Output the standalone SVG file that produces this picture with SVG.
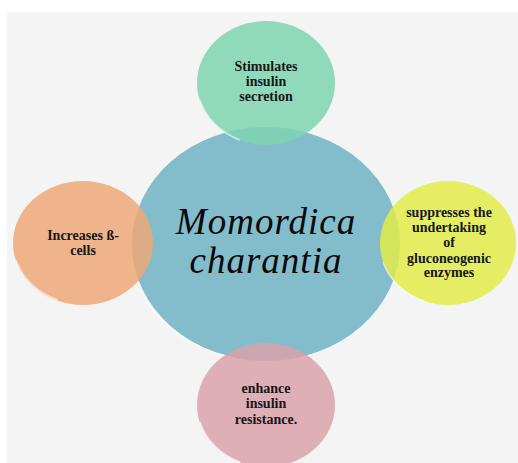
<svg xmlns="http://www.w3.org/2000/svg" width="518" height="463" viewBox="0 0 518 463">
<style>
.lbl{font-family:"Liberation Serif","Times New Roman",serif;font-weight:bold;font-size:14px;fill:#161616;text-anchor:middle}
.main{font-family:"Liberation Serif","Times New Roman",serif;font-style:italic;font-size:37px;letter-spacing:1px;fill:#0a0a0a;text-anchor:middle}
.rim{fill:none;stroke:#ffffff;stroke-opacity:0.6;stroke-width:1.5}
</style>
<rect x="0" y="0" width="518" height="463" fill="#ffffff"/>
<rect x="7" y="12" width="511" height="451" fill="#f4f4f4"/>
<g id="center">
<ellipse cx="266" cy="244" rx="134" ry="117" fill="#83bccb"/>
<path class="rim" d="M140,290 A134,117 0 0 0 230,357"/>
</g>
<g id="connectors"></g>
<g id="top">
<ellipse cx="266" cy="83" rx="69" ry="62" fill="#7fd4b0" fill-opacity="0.85"/>
<path class="rim" d="M200,100 A69,62 0 0 0 240,140"/>
<text class="lbl"><tspan x="266" y="71">Stimulates</tspan><tspan x="266" y="86">insulin</tspan><tspan x="266" y="101">secretion</tspan></text>
</g>
<g id="left">
<ellipse cx="83" cy="243" rx="70" ry="62" fill="#eda878" fill-opacity="0.85"/>
<path class="rim" d="M16,260 A70,62 0 0 0 58,300"/>
<text class="lbl"><tspan x="83" y="240">Increases  ß-</tspan><tspan x="83" y="255">cells</tspan></text>
</g>
<g id="right">
<ellipse cx="448" cy="243" rx="68" ry="62" fill="#e2ec48" fill-opacity="0.85"/>
<path class="rim" d="M383,262 A68,62 0 0 0 424,301"/>
<text class="lbl"><tspan x="449" y="217">suppresses  the</tspan><tspan x="449" y="232">undertaking</tspan><tspan x="449" y="247">of</tspan><tspan x="449" y="263">gluconeogenic</tspan><tspan x="449" y="277">enzymes</tspan></text>
</g>
<g id="bottom">
<ellipse cx="266" cy="405" rx="69" ry="62" fill="#d9a2aa" fill-opacity="0.85"/>
<path class="rim" d="M200,422 A69,62 0 0 0 240,462"/>
<text class="lbl"><tspan x="266" y="393">enhance</tspan><tspan x="266" y="408">insulin</tspan><tspan x="266" y="424">resistance.</tspan></text>
</g>
<text class="main" x="266" y="234">Momordica</text>
<text class="main" x="266" y="273">charantia</text>
</svg>
